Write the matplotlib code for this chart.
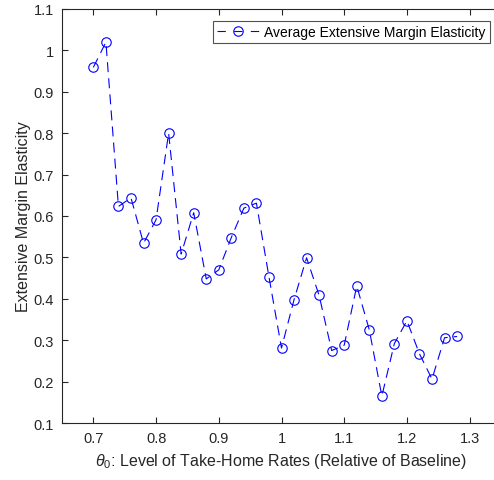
import matplotlib
matplotlib.use("Agg")
import matplotlib.pyplot as plt
import numpy as np

plt.rcParams['font.family'] = ['Liberation Sans', 'DejaVu Sans']
plt.rcParams['mathtext.fontset'] = 'custom'
plt.rcParams['mathtext.it'] = 'Liberation Sans:italic'
plt.rcParams['mathtext.rm'] = 'Liberation Sans'

# Take-home rate levels relative to baseline
theta0 = [0.70, 0.72, 0.74, 0.76, 0.78, 0.80, 0.82, 0.84, 0.86, 0.88,
          0.90, 0.92, 0.94, 0.96, 0.98, 1.00, 1.02, 1.04, 1.06, 1.08,
          1.10, 1.12, 1.14, 1.16, 1.18, 1.20, 1.22, 1.24, 1.26, 1.28]
# Average extensive margin elasticity at each level
elasticity = [0.959, 1.020, 0.623, 0.644, 0.534, 0.591, 0.800, 0.508, 0.608, 0.448,
              0.470, 0.548, 0.619, 0.631, 0.453, 0.281, 0.398, 0.499, 0.408, 0.275,
              0.288, 0.431, 0.325, 0.165, 0.292, 0.347, 0.267, 0.206, 0.306, 0.309]

x_ticks = [0.7, 0.8, 0.9, 1.0, 1.1, 1.2, 1.3]
x_ticklabels = ['0.7', '0.8', '0.9', '1', '1.1', '1.2', '1.3']
y_ticks = [0.1, 0.2, 0.3, 0.4, 0.5, 0.6, 0.7, 0.8, 0.9, 1.0, 1.1]
y_ticklabels = ['0.1', '0.2', '0.3', '0.4', '0.5', '0.6', '0.7', '0.8', '0.9', '1', '1.1']

W, H = 494, 481
fig = plt.figure(figsize=(W / 100, H / 100), dpi=100)
left, right, top, bottom = 62, 501, 10, 424
ax = fig.add_axes([left / W, 1 - bottom / H, (right - left) / W, (bottom - top) / H])

ax.plot(theta0, elasticity, linestyle=(0, (9, 5.5)), color='#0000ff', linewidth=0.8,
        marker='o', markersize=6.8, markerfacecolor='none', markeredgecolor='#0000ff',
        markeredgewidth=0.8, label='Average Extensive Margin Elasticity')

ax.set_xlim(0.65, 1.35)
ax.set_ylim(0.1, 1.1)
ax.set_xticks(x_ticks)
ax.set_xticklabels(x_ticklabels)
ax.set_yticks(y_ticks)
ax.set_yticklabels(y_ticklabels)

axis_color = '#262626'
for s in ax.spines.values():
    s.set_color(axis_color)
    s.set_linewidth(0.8)
ax.tick_params(direction='in', length=4, width=0.8, colors=axis_color,
               labelsize=10.5, top=True, right=True, pad=6)

ax.set_xlabel(r'$\theta_0$: Level of Take-Home Rates (Relative of Baseline)',
              fontsize=11.5, color=axis_color, labelpad=4)
ax.set_ylabel('Extensive Margin Elasticity', fontsize=11.5, color=axis_color, labelpad=2)

leg = ax.legend(loc='upper left', bbox_to_anchor=((213 - left) / (right - left), 1 - (22 - top) / (bottom - top)),
                fontsize=10, frameon=True, fancybox=False, edgecolor=axis_color,
                handlelength=3.0, handletextpad=0.4, borderpad=0.3, borderaxespad=0)
leg.get_frame().set_linewidth(0.8)
for h in leg.get_lines():
    h.set_linestyle((0, (7.5, 7.5)))

fig.savefig('out.png', dpi=100)
